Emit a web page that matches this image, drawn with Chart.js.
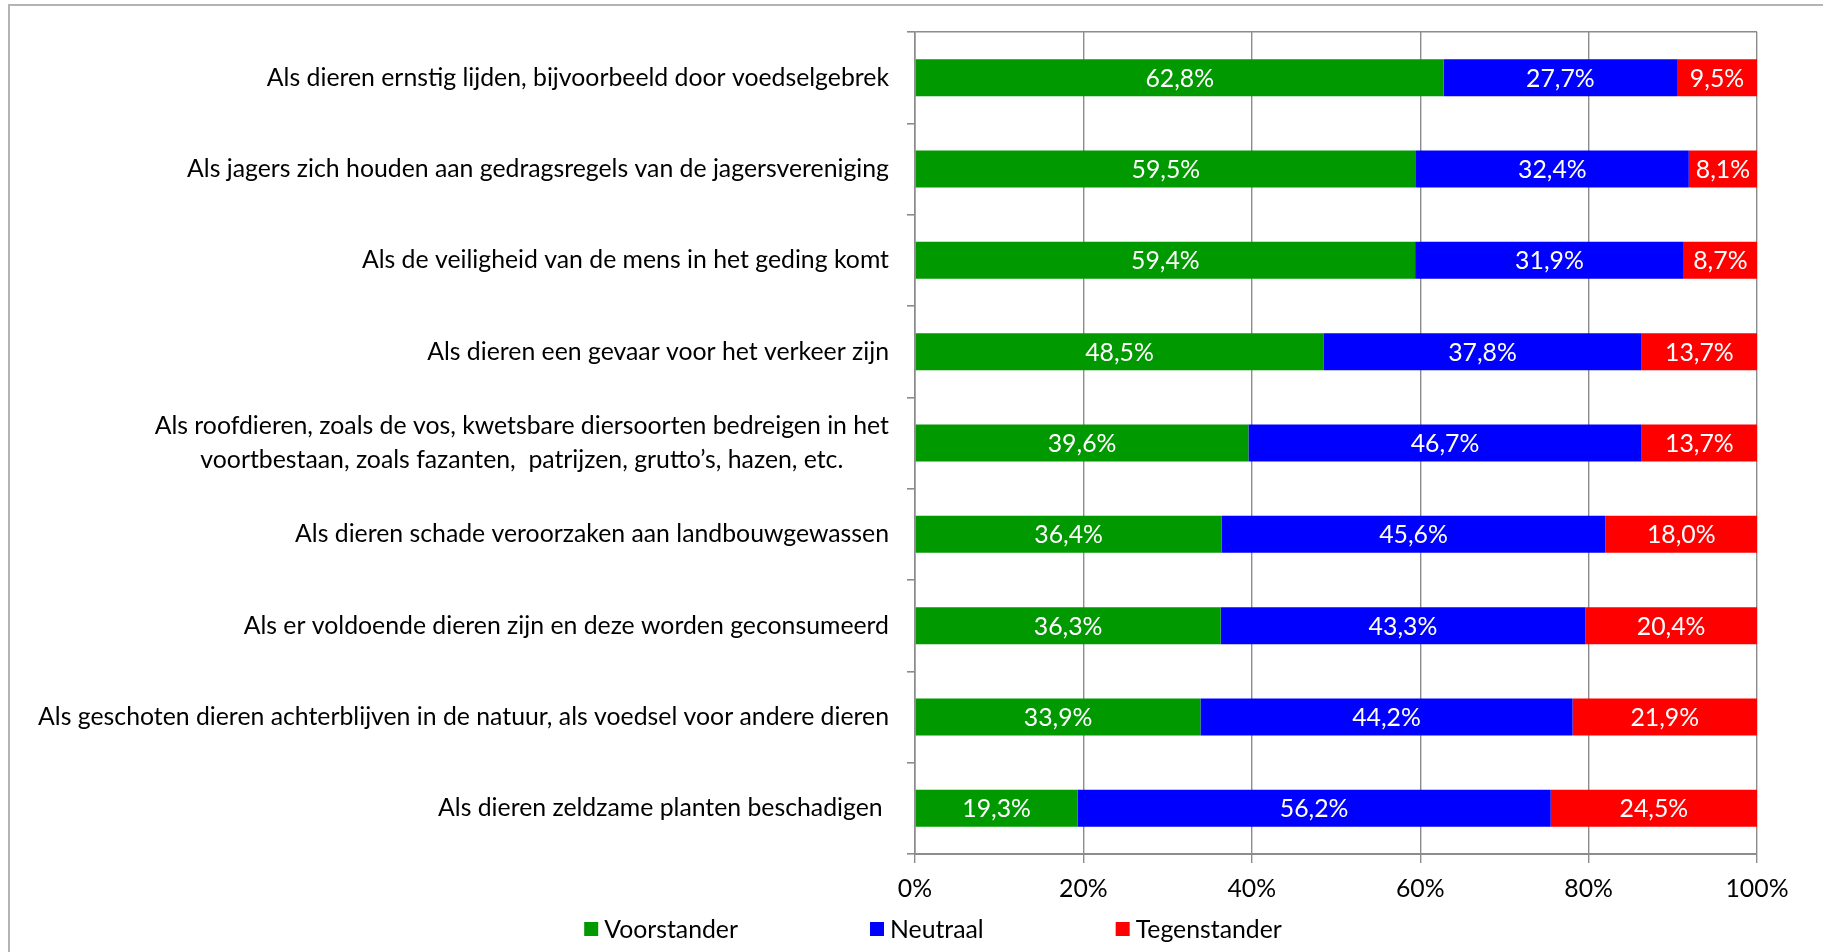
<!DOCTYPE html>
<html>
<head>
<meta charset="utf-8">
<script src="https://cdn.jsdelivr.net/npm/chart.js@4.4.1/dist/chart.umd.min.js"></script>
<style>
html,body{margin:0;padding:0;background:#fff;}
#wrap{width:1823px;height:952px;position:relative;}
</style>
</head>
<body>
<div id="wrap"><canvas id="c" width="1823" height="952"></canvas></div>
<script>
const categories = [
  ["Als dieren ernstig lijden, bijvoorbeeld door voedselgebrek"],
  ["Als jagers zich houden aan gedragsregels van de jagersvereniging"],
  ["Als de veiligheid van de mens in het geding komt"],
  ["Als dieren een gevaar voor het verkeer zijn"],
  ["Als roofdieren, zoals de vos, kwetsbare diersoorten bedreigen in het", "voortbestaan, zoals fazanten,  patrijzen, grutto\u2019s, hazen, etc."],
  ["Als dieren schade veroorzaken aan landbouwgewassen"],
  ["Als er voldoende dieren zijn en deze worden geconsumeerd"],
  ["Als geschoten dieren achterblijven in de natuur, als voedsel voor andere dieren"],
  ["Als dieren zeldzame planten beschadigen "]
];
const voorstander = [62.8, 59.5, 59.4, 48.5, 39.6, 36.4, 36.3, 33.9, 19.3];
const neutraal    = [27.7, 32.4, 31.9, 37.8, 46.7, 45.6, 43.3, 44.2, 56.2];
const tegenstander= [9.5, 8.1, 8.7, 13.7, 13.7, 18.0, 20.4, 21.9, 24.5];
const seriesNames = ["Voorstander", "Neutraal", "Tegenstander"];
const xTicks = [0, 20, 40, 60, 80, 100];

const FONT = "Lato";
const FS = 24.8;
const GRID = "#8c8c8c";
const colors = ["#009900", "#0000ff", "#ff0000"];

const fmt = v => v.toFixed(1).replace(".", ",") + "%";

const frame = {
  id: "frame",
  beforeDraw(chart) {
    const ctx = chart.ctx;
    ctx.save();
    ctx.fillStyle = "#fff";
    ctx.fillRect(0, 0, chart.width, chart.height);
    ctx.strokeStyle = "#b4b4b4";
    ctx.lineWidth = 2;
    ctx.beginPath();
    ctx.moveTo(9, chart.height + 5);
    ctx.lineTo(9, 5);
    ctx.lineTo(chart.width + 5, 5);
    ctx.stroke();
    ctx.restore();
  }
};

const yLabels = {
  id: "yLabels",
  afterDraw(chart) {
    const ctx = chart.ctx;
    const ys = chart.scales.y;
    const right = chart.chartArea.left - 26;
    const lh = 34;
    ctx.save();
    ctx.font = FS + "px " + FONT;
    ctx.fillStyle = "#000";
    ctx.textBaseline = "middle";
    ctx.textAlign = "center";
    categories.forEach((lines, i) => {
      const yc = ys.getPixelForTick(i);
      const maxW = Math.max(...lines.map(l => ctx.measureText(l).width));
      const cx = right - maxW / 2;
      const y0 = yc - (lines.length - 1) * lh / 2;
      lines.forEach((l, k) => ctx.fillText(l, cx, y0 + k * lh));
    });
    ctx.restore();
  }
};

const barLabels = {
  id: "barLabels",
  afterDatasetsDraw(chart) {
    const ctx = chart.ctx;
    ctx.save();
    ctx.font = FS + "px " + FONT;
    ctx.fillStyle = "#fff";
    ctx.textAlign = "center";
    ctx.textBaseline = "middle";
    chart.data.datasets.forEach((ds, di) => {
      const meta = chart.getDatasetMeta(di);
      meta.data.forEach((bar, i) => {
        const cx = (bar.x + bar.base) / 2;
        ctx.fillText(fmt(ds.data[i]), cx, bar.y + 1);
      });
    });
    ctx.restore();
  }
};

const legendPlugin = {
  id: "customLegend",
  afterDraw(chart) {
    const ctx = chart.ctx;
    ctx.save();
    ctx.font = FS + "px " + FONT;
    ctx.textBaseline = "middle";
    ctx.textAlign = "left";
    const box = 14, gapBox = 6, gapItem = 132;
    const widths = seriesNames.map(n => box + gapBox + ctx.measureText(n).width);
    const total = widths.reduce((a, b) => a + b, 0) + gapItem * (seriesNames.length - 1);
    let x = 933 - total / 2;
    const y = 929;
    seriesNames.forEach((n, i) => {
      ctx.fillStyle = colors[i];
      ctx.fillRect(x, y - box / 2, box, box);
      ctx.fillStyle = "#000";
      ctx.fillText(n, x + box + gapBox, y + 1);
      x += widths[i] + gapItem;
    });
    ctx.restore();
  }
};

const data = {
  labels: categories,
  datasets: [
    { label: seriesNames[0], data: voorstander, backgroundColor: colors[0] },
    { label: seriesNames[1], data: neutraal, backgroundColor: colors[1] },
    { label: seriesNames[2], data: tegenstander, backgroundColor: colors[2] }
  ]
};

new Chart(document.getElementById("c"), {
  type: "bar",
  data,
  plugins: [frame, yLabels, barLabels, legendPlugin],
  options: {
    indexAxis: "y",
    responsive: false,
    animation: false,
    devicePixelRatio: 1,
    layout: { padding: { left: 0, right: 66, top: 32, bottom: 0 } },
    datasets: { bar: { barPercentage: 0.405, categoryPercentage: 1, borderWidth: 0 } },
    plugins: { legend: { display: false }, tooltip: { enabled: false } },
    scales: {
      x: {
        stacked: true,
        min: 0, max: 100,
        afterBuildTicks(scale) { scale.ticks = xTicks.map(v => ({ value: v })); },
        afterFit(scale) { scale.height = 98; },
        ticks: {
          callback: v => v + "%",
          color: "#000",
          font: { family: FONT, size: FS },
          padding: 11,
          maxRotation: 0
        },
        grid: { color: GRID, lineWidth: 1.4, tickLength: 9, tickColor: GRID },
        border: { color: GRID, width: 2 }
      },
      y: {
        stacked: true,
        afterFit(scale) { scale.width = 915; },
        ticks: { display: false },
        grid: {
          offset: true,
          drawOnChartArea: true,
          color: ctx => ctx.index === 0 ? GRID : "rgba(0,0,0,0)",
          lineWidth: 1.6,
          tickLength: 8,
          tickColor: GRID
        },
        border: { color: GRID, width: 1.6 }
      }
    }
  }
});
</script>
</body>
</html>
